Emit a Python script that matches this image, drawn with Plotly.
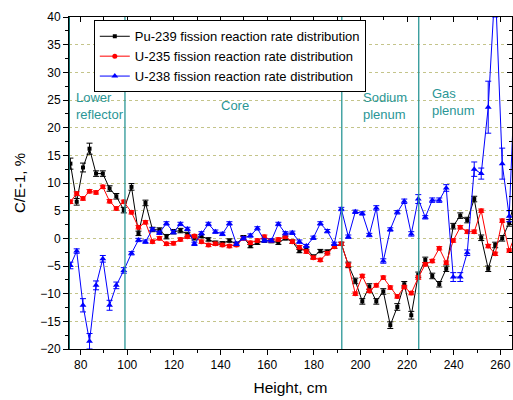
import plotly.graph_objects as go

height = [75.6, 78.3, 81.0, 83.8, 86.6, 89.5, 92.4, 95.3, 98.5,
          101.8, 104.8, 107.8, 110.8, 113.8, 116.8, 119.8, 122.8, 125.8, 128.8,
          131.8, 134.8, 137.8, 140.8, 143.8, 146.8, 149.8, 152.8, 155.8, 158.8,
          161.8, 164.8, 167.8, 170.8, 173.8, 176.8, 179.8, 182.8, 185.8, 188.8, 191.8,
          194.8, 197.8, 200.8, 203.8, 206.8, 209.8, 212.8, 215.8, 218.8, 221.8, 224.8,
          227.8, 230.8, 233.8, 236.8, 239.8, 242.8, 245.8, 248.8, 251.8, 254.8,
          257.8, 260.8, 263.8, 266.8]

pu239 = [13.5, 6.6, 12.8, 16.2, 11.7, 11.7, 9.0, 7.6, 5.1,
         9.3, 0.9, 6.4, 1.6, 1.5, 0.3, 1.2, 1.4, 0.7, 0.1,
         0.4, -0.2, -0.8, -0.9, -0.4, -1.0, 0.2, -1.4, -0.8, -0.4,
         -0.5, -0.8, 0.0, -0.6, -2.3, -1.8, -3.3, -2.3, -2.4, -1.5, -1.0,
         -4.8, -7.7, -11.4, -8.7, -11.4, -9.6, -15.7, -12.4, -8.3, -13.9, -6.6,
         -3.9, -6.8, -8.3, -5.5, 2.2, 4.1, 3.3, 7.1, 0.1, -5.5,
         -1.2, 0.0, 2.8, 8.0]

u235 = [6.6, 8.1, 7.2, 8.5, 8.3, 9.3, 6.7, 5.4, 6.6,
        4.7, 2.0, 2.9, -0.6, 0.0, -1.0, -0.9, -0.2, 0.3, 0.4,
        -0.6, -1.2, -1.0, -1.2, -1.4, -1.2, 0.0, -0.8, -0.4, 0.3,
        -0.4, -0.2, 0.3, -0.6, -1.6, -2.4, -3.5, -3.9, -2.7, -1.5, -1.0,
        -4.8, -10.0, -6.8, -9.5, -8.5, -7.1, -8.9, -10.5, -8.8, -9.9, -7.1,
        -4.7, -4.1, -1.8, -4.4, -0.4, 2.0, 1.2, 1.2, 5.0, -1.4,
        -2.8, 3.2, -2.2, 1.0]

u238 = [-4.9, -2.3, -12.1, -18.6, -8.5, -3.7, -12.1, -8.5, -5.8,
        -2.7, -0.3, -0.6, 1.6, 1.0, 2.7, 1.1, 2.6, 1.7, -1.0,
        0.9, 2.6, 1.2, 0.8, 2.7, -1.0, 0.0, 0.5, 1.8, -0.4,
        -0.4, 2.6, 0.9, 1.0, -0.6, -1.4, 0.1, 2.7, 1.3, -1.0, 5.3,
        0.3, 4.8, 4.5, 0.6, 5.5, -4.1, 1.6, 4.7, 6.7, 0.8, 7.1,
        3.8, 6.9, 6.9, 9.1, -7.0, -7.0, -2.6, 12.5, 11.7, 23.7,
        46.0, 13.5, 4.0, 35.0]

pu239_err = [1.0, 0.6, 0.8, 1.0, 0.5, 0.5, 0.5, 0.5, 0.5,
             0.6, 0.4, 0.5, 0.4, 0.4, 0.4, 0.4, 0.4, 0.4, 0.4,
             0.3, 0.3, 0.3, 0.3, 0.3, 0.3, 0.3, 0.3, 0.3, 0.3,
             0.3, 0.3, 0.3, 0.3, 0.3, 0.3, 0.3, 0.3, 0.3, 0.3, 0.3,
             0.5, 0.5, 0.5, 0.5, 0.5, 0.5, 0.6, 0.6, 0.5, 0.7, 0.5,
             0.5, 0.5, 0.5, 0.5, 0.5, 0.5, 0.5, 0.5, 0.5, 0.5,
             0.5, 0.5, 0.6, 0.8]

u235_err = [0.3] * 65

u238_err = [0.6, 0.4, 1.2, 1.4, 0.8, 0.6, 0.9, 0.6, 0.5,
            0.3, 0.3, 0.3, 0.3, 0.3, 0.3, 0.3, 0.3, 0.3, 0.3,
            0.3, 0.3, 0.3, 0.3, 0.3, 0.3, 0.3, 0.3, 0.3, 0.3,
            0.3, 0.3, 0.3, 0.3, 0.3, 0.3, 0.3, 0.3, 0.3, 0.3, 0.3,
            0.3, 0.3, 0.3, 0.3, 0.4, 0.4, 0.3, 0.3, 0.4, 0.4, 0.8,
            0.3, 0.4, 0.4, 0.6, 0.8, 0.8, 0.5, 1.3, 1.0, 4.7,
            6.0, 2.8, 1.0, 5.0]

regions = [75, 99, 192, 225]
region_labels = ["Lower<br>reflector", "Core", "Sodium<br>plenum", "Gas<br>plenum"]
label_x = [77, 139.2, 200.1, 229.8]
label_y = [23.9, 24.0, 24.0, 24.6]

FONT = "Arial, Liberation Sans, sans-serif"
TEAL = "#2a9696"

fig = go.Figure()

series = [
    ("Pu-239 fission reaction rate distribution", pu239, pu239_err, "#000000", "square", 4),
    ("U-235 fission reaction rate distribution", u235, u235_err, "#ff0000", "circle", 5),
    ("U-238 fission reaction rate distribution", u238, u238_err, "#0000ff", "triangle-up", 6),
]
for name, vals, errs, col, sym, sz in series:
    fig.add_trace(go.Scatter(
        x=height, y=vals, name=name, mode="lines+markers",
        line=dict(color=col, width=1),
        marker=dict(color=col, symbol=sym, size=sz),
        error_y=dict(type="data", array=errs, color=col, thickness=1, width=3),
        cliponaxis=True,
    ))

# dummy trace for mirrored inside ticks on top/right
fig.add_trace(go.Scatter(x=[None], y=[None], xaxis="x2", yaxis="y2",
                         showlegend=False, hoverinfo="skip"))

for i, xv in enumerate(regions):
    fig.add_shape(type="line", x0=xv, x1=xv, y0=0, y1=1, xref="x", yref="paper",
                  line=dict(color="#0e6e6e" if i == 0 else TEAL, width=2 if i == 0 else 1.3),
                  layer="above")

for txt, xv, yv in zip(region_labels, label_x, label_y):
    fig.add_annotation(x=xv, y=yv, xref="x", yref="y", text=txt, showarrow=False,
                       xanchor="left", yanchor="middle", align="left",
                       font=dict(family=FONT, size=13, color=TEAL))

fig.update_layout(
    width=513, height=400,
    margin=dict(l=69, r=1, t=17, b=51),
    paper_bgcolor="white", plot_bgcolor="white",
    font=dict(family=FONT, size=12, color="#000"),
    showlegend=True,
    legend=dict(x=0.056, y=0.99, xanchor="left", yanchor="top",
                bgcolor="white", bordercolor="#000", borderwidth=1,
                font=dict(family=FONT, size=13, color="#000"),
                tracegroupgap=0, itemwidth=30),
    xaxis=dict(range=[75, 265], tick0=0, dtick=20, ticks="outside", ticklen=5,
               tickwidth=1, tickcolor="#000", showline=True, linecolor="#000",
               linewidth=1, mirror=True, showgrid=False, zeroline=False,
               minor=dict(dtick=10, ticks="outside", ticklen=3, tickcolor="#000"),
               title=dict(text="Height, cm", font=dict(family=FONT, size=15.5), standoff=10),
               tickfont=dict(family=FONT, size=12)),
    yaxis=dict(range=[-20, 40], tick0=0, dtick=5, ticks="outside", ticklen=5,
               tickwidth=1, tickcolor="#000", showline=True, linecolor="#000",
               linewidth=1, mirror=True, showgrid=True, gridcolor="#c4c48a",
               griddash="dot", gridwidth=1, zeroline=False,
               minor=dict(dtick=2.5, ticks="outside", ticklen=3, tickcolor="#000"),
               title=dict(text="C/E-1, %", font=dict(family=FONT, size=15), standoff=10),
               tickfont=dict(family=FONT, size=12)),
    xaxis2=dict(overlaying="x", side="top", range=[75, 265], tick0=0, dtick=20,
                ticks="inside", ticklen=5, tickcolor="#000", showticklabels=False,
                showgrid=False, zeroline=False, showline=False,
                minor=dict(dtick=10, ticks="inside", ticklen=3, tickcolor="#000")),
    yaxis2=dict(overlaying="y", side="right", range=[-20, 40], tick0=0, dtick=5,
                ticks="inside", ticklen=5, tickcolor="#000", showticklabels=False,
                showgrid=False, zeroline=False, showline=False,
                minor=dict(dtick=2.5, ticks="inside", ticklen=3, tickcolor="#000")),
)

fig.write_html("out.html")
